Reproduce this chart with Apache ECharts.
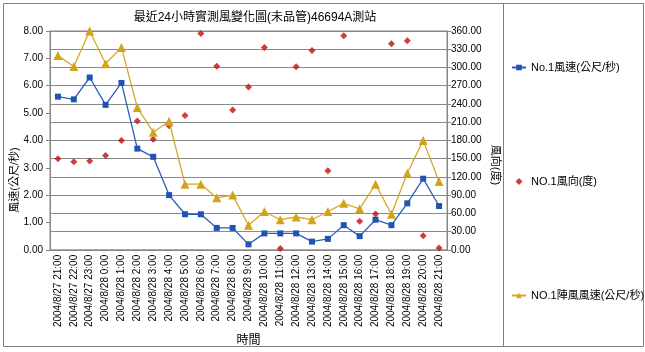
<!DOCTYPE html>
<html>
<head>
<meta charset="utf-8">
<script src="https://cdn.jsdelivr.net/npm/echarts@6/dist/echarts.min.js"></script>
<style>
  html, body { margin: 0; padding: 0; background: #fff; }
  #chart { width: 645px; height: 352px; }
</style>
</head>
<body>
<div id="chart"></div>
<script>
var hours = ['2004/8/27 21:00', '2004/8/27 22:00', '2004/8/27 23:00', '2004/8/28 0:00',
    '2004/8/28 1:00', '2004/8/28 2:00', '2004/8/28 3:00', '2004/8/28 4:00', '2004/8/28 5:00',
    '2004/8/28 6:00', '2004/8/28 7:00', '2004/8/28 8:00', '2004/8/28 9:00', '2004/8/28 10:00',
    '2004/8/28 11:00', '2004/8/28 12:00', '2004/8/28 13:00', '2004/8/28 14:00', '2004/8/28 15:00',
    '2004/8/28 16:00', '2004/8/28 17:00', '2004/8/28 18:00', '2004/8/28 19:00', '2004/8/28 20:00',
    '2004/8/28 21:00'];
var windSpeed = [5.6, 5.5, 6.3, 5.3, 6.1, 3.7, 3.4, 2.0, 1.3, 1.3, 0.8, 0.8, 0.2,
    0.6, 0.6, 0.6, 0.3, 0.4, 0.9, 0.5, 1.1, 0.9, 1.7, 2.6, 1.6];
var windDir = [150, 145, 146, 155, 180, 212, 182, 204, 221, 356, 302, 230, 268,
    333, 2, 301, 328, 130, 352, 47, 59, 339, 344, 23, 3];
var gustSpeed = [7.1, 6.7, 8.0, 6.8, 7.4, 5.2, 4.3, 4.7, 2.4, 2.4, 1.9, 2.0, 0.9,
    1.4, 1.1, 1.2, 1.1, 1.4, 1.7, 1.5, 2.4, 1.3, 2.8, 4.0, 2.5];

var font = 'Liberation Sans, Arial, "Noto Sans CJK TC", sans-serif';
var gray = '#868686';

var myChart = echarts.init(document.getElementById('chart'));
var option = {
    animation: false,
    textStyle: { fontFamily: font },
    title: {
        text: '最近24小時實測風變化圖(未品管)46694A測站',
        left: 250,
        textAlign: 'center',
        top: 7,
        textStyle: { fontSize: 12, fontWeight: 'normal', color: '#000', fontFamily: font }
    },
    graphic: [
        {
            type: 'rect',
            shape: { x: 3.5, y: 3.5, width: 640, height: 343 },
            style: { fill: null, stroke: '#7f7f7f', lineWidth: 1 },
            silent: true
        },
        {
            type: 'line',
            shape: { x1: 503.5, y1: 3.5, x2: 503.5, y2: 346.5 },
            style: { stroke: '#7f7f7f', lineWidth: 1 },
            silent: true
        },
        {
            type: 'text',
            x: 15, y: 180,
            rotation: Math.PI / 2,
            style: {
                text: '風速(公尺/秒)', fill: '#000', font: '11px ' + font,
                textAlign: 'center', textVerticalAlign: 'middle'
            }
        },
        {
            type: 'text',
            x: 495, y: 165,
            rotation: -Math.PI / 2,
            style: {
                text: '風向(度)', fill: '#000', font: '11px ' + font,
                textAlign: 'center', textVerticalAlign: 'middle'
            }
        }
    ],
    legend: {
        orient: 'vertical',
        left: 506,
        top: 57,
        itemGap: 103,
        itemWidth: 14,
        itemHeight: 7,
        symbolKeepAspect: true,
        textStyle: { fontSize: 11, color: '#000', fontFamily: font },
        data: [
            'No.1風速(公尺/秒)',
            { name: 'NO.1風向(度)', icon: 'path://M5,0 L10,5 L5,10 L0,5 Z' },
            'NO.1陣風風速(公尺/秒)'
        ]
    },
    grid: {
        left: 50, right: 198, top: 31, bottom: 102,
        show: true, borderColor: gray, borderWidth: 1
    },
    xAxis: {
        type: 'category',
        data: hours,
        boundaryGap: true,
        name: '時間',
        nameLocation: 'middle',
        nameGap: 78,
        nameTextStyle: { fontSize: 12, color: '#000' },
        axisLine: { lineStyle: { color: gray } },
        axisTick: { length: 4, lineStyle: { color: gray } },
        axisLabel: { rotate: 90, fontSize: 10, color: '#000', interval: 0, margin: 5 }
    },
    yAxis: [
        {
            type: 'value',
            min: 0, max: 8, interval: 1,
            axisLine: { show: true, lineStyle: { color: gray } },
            axisTick: { show: true, length: 4, lineStyle: { color: gray } },
            splitLine: { show: false },
            axisLabel: {
                fontSize: 10, color: '#000', margin: 7,
                formatter: function (v) { return v.toFixed(2); }
            }
        },
        {
            type: 'value',
            min: 0, max: 360, interval: 30,
            position: 'right',
            axisLine: { show: true, lineStyle: { color: gray } },
            axisTick: { show: true, length: 4, lineStyle: { color: gray } },
            splitLine: { show: true, lineStyle: { color: '#8a8a8a', width: 1 } },
            axisLabel: {
                fontSize: 10, color: '#000', margin: 4,
                formatter: function (v) { return v.toFixed(2); }
            }
        }
    ],
    series: [
        {
            name: 'No.1風速(公尺/秒)',
            type: 'line',
            yAxisIndex: 0,
            data: windSpeed,
            symbol: 'rect',
            symbolSize: 6,
            color: '#1f55b0',
            lineStyle: { width: 1.3, color: '#2a5fb5' },
            itemStyle: { color: '#1f55b0' }
        },
        {
            name: 'NO.1風向(度)',
            type: 'scatter',
            yAxisIndex: 1,
            data: windDir,
            symbol: 'diamond',
            symbolSize: 7,
            color: '#c40d0d',
            itemStyle: { color: '#c40d0d' }
        },
        {
            name: 'NO.1陣風風速(公尺/秒)',
            type: 'line',
            yAxisIndex: 0,
            data: gustSpeed,
            symbol: 'triangle',
            symbolSize: 9,
            color: '#d4a31a',
            lineStyle: { width: 1.3, color: '#d6a829' },
            itemStyle: { color: '#d4a31a' }
        }
    ]
};
myChart.setOption(option);
</script>
</body>
</html>
